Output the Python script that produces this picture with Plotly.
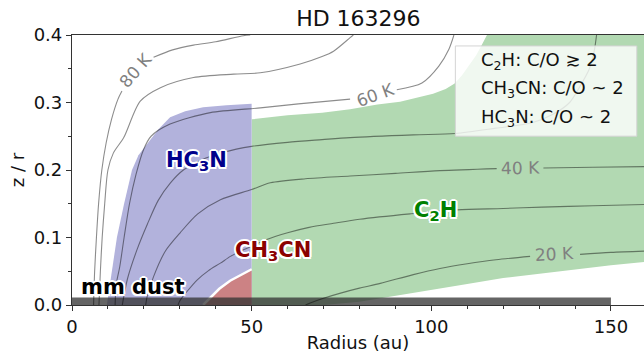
import plotly.graph_objects as go

# ---------------- data ----------------
# temperature contours: radius (au) and z/r ; None = gap for inline label
c80_r = [6.0, 6.3, 6.8, 7.4, 8.3, 9.5, 11.0, 12.8, 13.9, None, 22.7, 28.0, 33.8, 40.0, 47.7, 49.6]
c80_z = [0.0, 0.05, 0.10, 0.15, 0.20, 0.24, 0.275, 0.305, 0.317, None, 0.367, 0.378, 0.385, 0.390, 0.399, 0.40]

c70_r = [7.5, 7.9, 8.4, 9.1, 10.0, 11.5, 14.4, 19.0, 24.6, 33.8, 45.0, 52.4, 63.5, 69.6, 72.8, 77.4, 78.3]
c70_z = [0.0, 0.05, 0.10, 0.15, 0.20, 0.225, 0.248, 0.302, 0.322, 0.337, 0.342, 0.344, 0.357, 0.368, 0.376, 0.396, 0.40]

c60_r = [12.0, 12.3, 13.3, 14.5, 16.0, 17.8, 19.9, 22.0, 27.3, 38.5, 52.4, 63.0, 77.4, None, 90.4, 97.4, 102.1, 104.9, 106.3]
c60_z = [0.0, 0.03, 0.057, 0.10, 0.15, 0.193, 0.23, 0.25, 0.268, 0.285, 0.292, 0.298, 0.305, None, 0.319, 0.329, 0.354, 0.379, 0.40]

c50_r = [14.0, 14.4, 15.5, 18.1, 21.0, 24.0, 27.4, 31.0, 36.0, 42.0, 50.0, 60.0, 69.6, 77.4, 95.0, 106.7,
         118.0, 128.0, 134.0, 138.5, 141.5, 144.0, 145.3, 146.0]
c50_z = [0.0, 0.012, 0.04, 0.082, 0.12, 0.155, 0.181, 0.20, 0.215, 0.226, 0.235, 0.241, 0.245, 0.248, 0.252, 0.254,
         0.262, 0.270, 0.283, 0.30, 0.325, 0.35, 0.375, 0.40]

c40_r = [20.5, 20.9, 22.7, 26.0, 30.1, 35.0, 41.3, 50.0, 55.2, 65.0, 77.4, 90.0, 102.4, 118.2, None, 131.2, 145.0, 160.0]
c40_z = [0.0, 0.012, 0.042, 0.08, 0.107, 0.135, 0.156, 0.171, 0.181, 0.187, 0.191, 0.195, 0.199, 0.202, None, 0.203, 0.204, 0.205]

c30_r = [29.5, 30.1, 32.0, 34.8, 38.0, 41.3, 44.1, 47.0, 50.0, 54.2, 60.0, 66.0, 72.8, 80.0, 94.1, 107.1, 120.0, 130.8, 145.0, 160.0]
c30_z = [0.0, 0.007, 0.02, 0.037, 0.051, 0.062, 0.072, 0.080, 0.087, 0.097, 0.107, 0.115, 0.121, 0.127, 0.135, 0.141, 0.143, 0.145, 0.147, 0.149]

c20_r = [65.0, 66.3, 70.0, 75.0, 80.0, 85.8, 95.0, 102.4, 110.0, 118.0, 127.5, None, 141.4, 150.0, 160.0]
c20_z = [0.0, 0.003, 0.010, 0.018, 0.025, 0.032, 0.045, 0.054, 0.061, 0.067, 0.072, None, 0.075, 0.078, 0.080]

# contour label text and positions (r, z/r, angle)
clabel_text = ["80 K", "60 K", "40 K", "20 K"]
clabel_r = [17.8, 84.4, 124.7, 134.4]
clabel_z = [0.348, 0.311, 0.203, 0.075]
clabel_angle = [-49, -20, -1, -3]

# emitting regions
hc3n_r = [9.7, 11.0, 12.5, 14.5, 16.7, 18.5, 20.9, 24.0, 27.3, 31.5, 36.5, 43.0, 50.0, 50.0]
hc3n_z = [0.0, 0.05, 0.10, 0.15, 0.20, 0.222, 0.238, 0.260, 0.278, 0.287, 0.293, 0.296, 0.298, 0.0]

ch3cn_r = [36.5, 38.5, 41.0, 44.0, 47.0, 50.0, 50.0]
ch3cn_z = [0.0, 0.010, 0.024, 0.036, 0.045, 0.053, 0.0]

c2h_r = [50.0, 50.0, 60.0, 69.6, 77.4, 85.0, 91.3, 95.0, 100.5, 104.0, 106.5, 108.5, 110.5, 112.5, 114.0, 115.5,
         160.0, 160.0, 150.0, 140.0, 130.3, 120.0, 110.0, 100.0, 90.0, 80.0, 70.0, 60.0]
c2h_z = [0.0, 0.275, 0.281, 0.285, 0.290, 0.297, 0.301, 0.306, 0.313, 0.320, 0.328, 0.340, 0.355, 0.370, 0.385, 0.40,
         0.40, 0.064, 0.059, 0.053, 0.047, 0.040, 0.031, 0.022, 0.013, 0.005, 0.0, 0.0]

dust_r = [0.0, 150.0]
dust_height = 0.011

legend_lines = ["C<sub>2</sub>H: C/O ≳ 2", "CH<sub>3</sub>CN: C/O ~ 2", "HC<sub>3</sub>N: C/O ~ 2"]

x_range = [0, 159.2]
y_range = [0, 0.4]

# ---------------- figure ----------------
FONT = "DejaVu Sans"
fig = go.Figure()

# filled regions
fig.add_trace(go.Scatter(x=c2h_r, y=c2h_z, fill="toself", mode="lines", line=dict(width=0),
                         fillcolor="rgb(178,217,178)", hoverinfo="skip", showlegend=False))
fig.add_trace(go.Scatter(x=hc3n_r, y=hc3n_z, fill="toself", mode="lines", line=dict(width=0),
                         fillcolor="rgb(178,178,220)", hoverinfo="skip", showlegend=False))
fig.add_trace(go.Scatter(x=ch3cn_r, y=ch3cn_z, fill="toself", mode="lines", line=dict(width=0),
                         fillcolor="rgb(204,130,132)", hoverinfo="skip", showlegend=False))
fig.add_trace(go.Scatter(x=ch3cn_r[:-1], y=ch3cn_z[:-1], mode="lines", line=dict(color="white", width=2.5),
                         hoverinfo="skip", showlegend=False))

# mm dust band
fig.add_trace(go.Scatter(x=[dust_r[0], dust_r[1], dust_r[1], dust_r[0], dust_r[0]],
                         y=[0, 0, dust_height, dust_height, 0], fill="toself", mode="lines",
                         line=dict(width=0), fillcolor="rgba(50,50,50,0.75)", hoverinfo="skip", showlegend=False))

# contours
for cr, cz in [(c80_r, c80_z), (c70_r, c70_z), (c60_r, c60_z), (c50_r, c50_z),
               (c40_r, c40_z), (c30_r, c30_z), (c20_r, c20_z)]:
    fig.add_trace(go.Scatter(x=cr, y=cz, mode="lines", connectgaps=False,
                             line=dict(color="rgba(0,0,0,0.45)", width=1.1, shape="spline", smoothing=0.8),
                             hoverinfo="skip", showlegend=False))

ann = []
for t, r, z, a in zip(clabel_text, clabel_r, clabel_z, clabel_angle):
    ann.append(dict(x=r, y=z, xref="x", yref="y", text=t, showarrow=False, textangle=a,
                    font=dict(family=FONT, size=17, color="rgb(128,128,128)")))

outline = ("white 2px 0px 0px, white -2px 0px 0px, white 0px 2px 0px, white 0px -2px 0px, "
           "white 1.5px 1.5px 0px, white -1.5px -1.5px 0px, white 1.5px -1.5px 0px, white -1.5px 1.5px 0px")
region_labels = [("HC<sub>3</sub>N", 34.6, 0.213, "rgb(0,0,139)"),
                 ("CH<sub>3</sub>CN", 55.9, 0.080, "rgb(139,0,0)"),
                 ("C<sub>2</sub>H", 101.3, 0.139, "rgb(0,128,0)"),
                 ("mm dust", 16.9, 0.027, "black")]
for t, r, z, c in region_labels:
    ann.append(dict(x=r, y=z, xref="x", yref="y", text=t, showarrow=False,
                    font=dict(family=FONT, size=21, color=c, weight=700, shadow=outline)))

# legend text
legend_z = [0.3615, 0.3195, 0.2774]
for t, z in zip(legend_lines, legend_z):
    ann.append(dict(x=113.2, y=z, xref="x", yref="y", text=t, showarrow=False, xanchor="left",
                    yanchor="middle", font=dict(family=FONT, size=18, color="#111")))

fig.update_layout(
    width=644, height=360,
    margin=dict(l=72, r=0, t=35, b=55, autoexpand=False),
    paper_bgcolor="white", plot_bgcolor="white",
    title=dict(text="HD 163296", x=0.5565, xanchor="center", y=0.95, yanchor="middle",
               automargin=False, font=dict(family=FONT, size=22, color="#111")),
    font=dict(family=FONT, size=18, color="#111"),
    annotations=ann,
    shapes=[dict(type="rect", xref="x", yref="y", x0=106.7, x1=157.2, y0=0.2501, y1=0.3838,
                 fillcolor="rgba(255,255,255,0.8)", line=dict(color="rgb(212,212,212)", width=1),
                 layer="above")],
)
fig.update_xaxes(range=x_range, automargin=False, showgrid=False, zeroline=False, showline=True,
                 linecolor="#333", linewidth=1.2, mirror=True, ticks="outside", ticklen=5, tickwidth=1.2,
                 tickcolor="#333", tickvals=[0, 50, 100, 150], tickfont=dict(family=FONT, size=18, color="#111"),
                 minor=dict(tickvals=[10, 20, 30, 40, 60, 70, 80, 90, 110, 120, 130, 140],
                            ticks="outside", ticklen=3, tickwidth=1, tickcolor="#333"),
                 title=dict(text="Radius (au)", font=dict(family=FONT, size=18, color="#111"), standoff=0))
fig.update_yaxes(range=y_range, automargin=False, showgrid=False, zeroline=False, showline=True,
                 linecolor="#333", linewidth=1.2, ticks="outside", ticklen=5, tickwidth=1.2, tickcolor="#333",
                 tickvals=[0, 0.1, 0.2, 0.3, 0.4], tickformat=".1f",
                 tickfont=dict(family=FONT, size=18, color="#111"),
                 minor=dict(tickvals=[0.05, 0.15, 0.25, 0.35], ticks="outside", ticklen=3, tickwidth=1,
                            tickcolor="#333"),
                 title=dict(text="z / r", font=dict(family=FONT, size=18, color="#111"), standoff=4))

fig.write_html("out.html", config={"displayModeBar": False},
               post_script="document.body.style.margin='0px';document.body.style.padding='0px';")
